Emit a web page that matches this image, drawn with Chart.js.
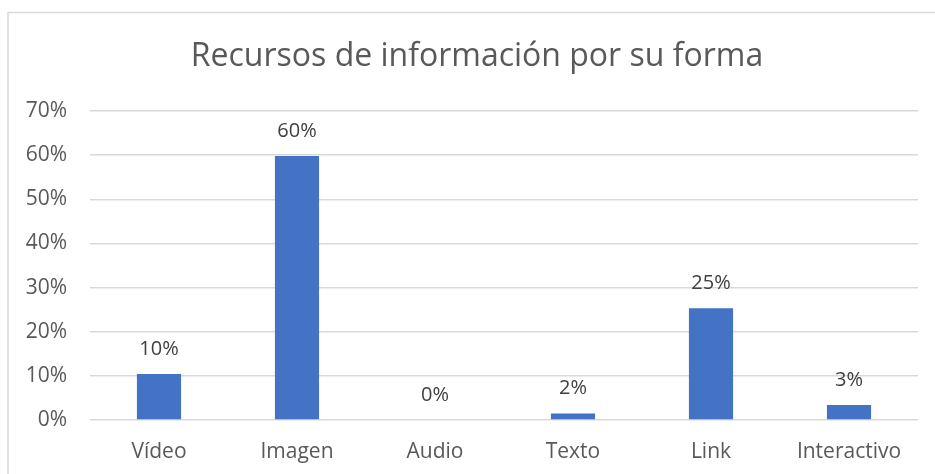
<!DOCTYPE html>
<html lang="es">
<head>
    <meta charset="UTF-8">
    <title>Recursos de información por su forma</title>
    <style>
        body {
            margin: 0;
            background-color: #fff;
        }
        #chart-box {
            position: relative;
            width: 935px;
            height: 474px;
        }
    </style>
</head>
<body>
    <div id="chart-box">
        <canvas id="bar-chart" width="935" height="474"></canvas>
    </div>

    <script src="https://cdn.jsdelivr.net/npm/chart.js"></script>
    <script>
        const categories = ["Vídeo", "Imagen", "Audio", "Texto", "Link", "Interactivo"];
        const values = [10.4, 59.8, 0, 1.5, 25.3, 3.4];
        const valueLabels = ["10%", "60%", "0%", "2%", "25%", "3%"];
        const tickValues = [0, 10, 20, 30, 40, 50, 60, 70];
        const chartTitle = 'Recursos de información por su forma';

        const fontName = "'Open Sans', 'Noto Sans', sans-serif";
        const textColor = '#595959';

        // light frame round the chart, plus the title centred on the whole box
        const framePlugin = {
            id: 'frame',
            beforeDraw(chart) {
                const ctx = chart.ctx;
                ctx.save();
                ctx.fillStyle = '#fff';
                ctx.fillRect(0, 0, chart.width, chart.height);
                ctx.strokeStyle = '#d9d9d9';
                ctx.lineWidth = 1.5;
                ctx.beginPath();
                ctx.moveTo(8, chart.height);
                ctx.lineTo(8, 12.5);
                ctx.lineTo(chart.width, 12.5);
                ctx.stroke();

                ctx.font = '32px ' + fontName;
                ctx.fillStyle = textColor;
                ctx.textAlign = 'center';
                ctx.textBaseline = 'middle';
                ctx.fillText(chartTitle, 477, 57);
                ctx.restore();
            }
        };

        // value labels above each bar
        const labelPlugin = {
            id: 'valueLabels',
            afterDatasetsDraw(chart) {
                const ctx = chart.ctx;
                const meta = chart.getDatasetMeta(0);
                ctx.save();
                ctx.font = '20px ' + fontName;
                ctx.fillStyle = '#404040';
                ctx.textAlign = 'center';
                ctx.textBaseline = 'middle';
                meta.data.forEach((bar, i) => {
                    ctx.fillText(valueLabels[i], bar.x, bar.y - 25);
                });
                ctx.restore();
            }
        };

        new Chart(document.getElementById('bar-chart'), {
            type: 'bar',
            data: {
                labels: categories,
                datasets: [{
                    data: values,
                    backgroundColor: '#4472c4',
                    borderColor: '#4472c4',
                    borderWidth: 0,
                    categoryPercentage: 1,
                    barPercentage: 0.32
                }]
            },
            options: {
                responsive: false,
                animation: false,
                layout: {
                    padding: { left: 0, right: 17, top: 111, bottom: 0 }
                },
                plugins: {
                    legend: { display: false },
                    tooltip: { enabled: false },
                    title: { display: false }
                },
                scales: {
                    x: {
                        afterFit(axis) { axis.height = 54; },
                        grid: { display: false },
                        border: { display: false },
                        ticks: {
                            color: textColor,
                            font: { family: fontName, size: 21 },
                            padding: 11
                        }
                    },
                    y: {
                        min: 0,
                        max: 70,
                        afterFit(axis) { axis.width = 90; },
                        afterBuildTicks(axis) {
                            axis.ticks = tickValues.map(v => ({ value: v }));
                        },
                        grid: { color: '#d9d9d9', lineWidth: 1.5, drawTicks: false },
                        border: { display: false },
                        ticks: {
                            color: textColor,
                            font: { family: fontName, size: 21 },
                            padding: 23,
                            callback: v => v + '%'
                        }
                    }
                }
            },
            plugins: [framePlugin, labelPlugin]
        });
    </script>
</body>
</html>
